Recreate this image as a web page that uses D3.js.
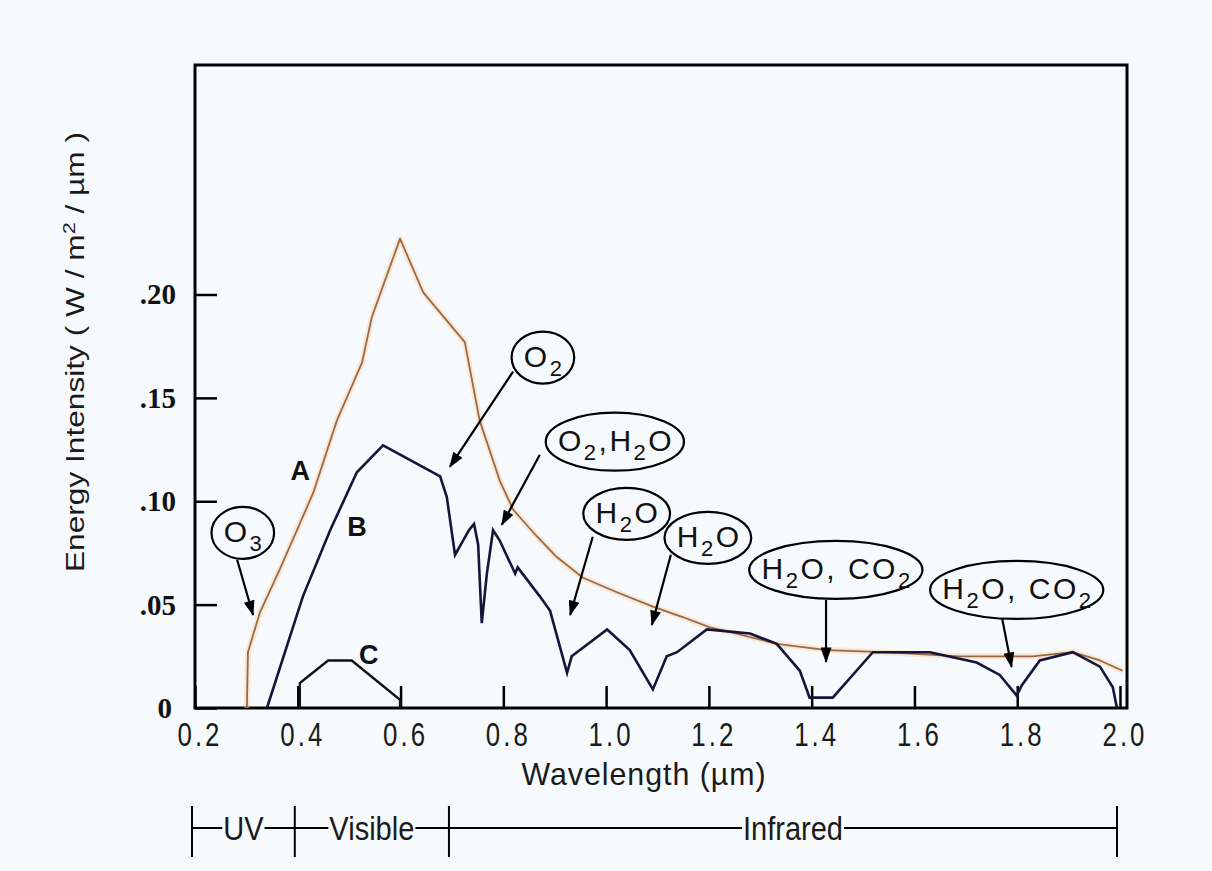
<!DOCTYPE html>
<html><head><meta charset="utf-8">
<script src="https://cdn.jsdelivr.net/npm/d3@7/dist/d3.min.js"></script>
<style>
body{margin:0;background:#f7fafc;}
svg{display:block;}
</style>
</head><body>
<svg id="chart" width="1212" height="871"></svg>
<script>
// ---------- data ----------
const xTickValues = [0.2,0.4,0.6,0.8,1.0,1.2,1.4,1.6,1.8,2.0];
const xTickLabels = ["0.2","0.4","0.6","0.8","1.0","1.2","1.4","1.6","1.8","2.0"];
const yTickValues = [0,0.05,0.10,0.15,0.20];
const yTickLabels = ["0",".05",".10",".15",".20"];

// Curve A (top of atmosphere)
const curveAWave = [0.301,0.303,0.326,0.365,0.430,0.476,0.525,0.544,0.599,0.644,0.725,0.754,0.793,0.819,0.858,0.904,0.955,1.021,1.091,1.149,1.202,1.254,1.332,1.430,1.539,1.688,1.830,1.908,1.961,2.005];
const curveAVal  = [0,0.027,0.046,0.067,0.104,0.139,0.167,0.189,0.227,0.201,0.177,0.139,0.110,0.096,0.085,0.073,0.063,0.056,0.049,0.044,0.039,0.036,0.031,0.028,0.027,0.025,0.025,0.027,0.023,0.018];
// Curve B (sea level)
const curveBWave = [0.340,0.410,0.463,0.515,0.566,0.677,0.690,0.706,0.733,0.743,0.751,0.758,0.768,0.780,0.793,0.823,0.828,0.871,0.891,0.924,0.933,1.002,1.046,1.091,1.118,1.138,1.196,1.280,1.332,1.377,1.396,1.441,1.519,1.630,1.721,1.766,1.799,1.809,1.844,1.908,1.961,1.986,1.994];
const curveBVal  = [0,0.054,0.086,0.114,0.127,0.112,0.102,0.074,0.086,0.089,0.079,0.041,0.065,0.086,0.081,0.065,0.068,0.054,0.047,0.017,0.025,0.038,0.028,0.009,0.025,0.027,0.038,0.036,0.031,0.018,0.005,0.005,0.027,0.027,0.022,0.016,0.006,0.011,0.023,0.027,0.020,0.010,0];
// Curve C
const curveCWave = [0.404,0.404,0.459,0.505,0.599,0.599];
const curveCVal  = [0,0.012,0.023,0.023,0.004,0];

const curveNames = ["A","B","C"];
const curveLabelWave = [0.405,0.515,0.538];
const curveLabelVal  = [0.115,0.088,0.026];

// Absorption annotations ("_" marks a subscript character)
const annLabels   = ["O_3","O_2","O_2,H_2O","H_2O","H_2O","H_2O, CO_2","H_2O, CO_2"];
const annCenterW  = [0.293,0.877,1.017,1.040,1.198,1.447,1.799];
const annCenterV  = [0.0847,0.1695,0.1288,0.0939,0.0823,0.0668,0.0571];
const annFromW    = [0.282,0.819,0.871,0.974,1.126,1.428,1.770];
const annFromV    = [0.0717,0.1627,0.1225,0.0828,0.0741,0.0523,0.0441];
const annToW      = [0.313,0.696,0.797,0.930,1.089,1.428,1.789];
const annToV      = [0.045,0.1167,0.0886,0.0450,0.0402,0.0223,0.0199];

// Spectral regions
const regionBounds = [0.2,0.4,0.7,2.0];
const regionNames  = ["UV","Visible","Infrared"];

// ---------- drawing ----------
const svg = d3.select("#chart");
const bg = "#f7fafc";
svg.append("rect").attr("width",1212).attr("height",871).attr("fill",bg);

const x = d3.scaleLinear().domain([0.2,2.0]).range([195,1120]);
const y = d3.scaleLinear().domain([0,0.311]).range([708,65]);

const sans = "'Liberation Sans',Arial,sans-serif";

// helper: horizontally condensed text
function narrowText(parent, px, py, str, size, sx, spacing){
  return parent.append("text")
    .attr("transform",`translate(${px},${py}) scale(${sx},1)`)
    .attr("text-anchor","middle").attr("font-family",sans).attr("font-size",size)
    .attr("letter-spacing",spacing||0).attr("fill","#1a1a1a").text(str);
}

// frame
svg.append("rect").attr("x",x(0.2)).attr("y",y(0.311))
  .attr("width",1127-x(0.2)).attr("height",y(0)-y(0.311))
  .attr("fill","none").attr("stroke","#000").attr("stroke-width",3);

// x axis (inward ticks)
const xAxis = d3.axisTop(x).tickValues(xTickValues).tickSize(22).tickFormat("");
const gx = svg.append("g").attr("transform",`translate(0,${y(0)})`).call(xAxis);
gx.select(".domain").remove();
gx.selectAll(".tick line").attr("stroke","#000").attr("stroke-width",2.5);
const gxl = svg.append("g");
xTickValues.forEach((d,i)=> narrowText(gxl, x(d)+5, 746, xTickLabels[i], 34, 0.76, 4));

// y axis (inward ticks)
const yAxis = d3.axisRight(y).tickValues(yTickValues).tickSize(22).tickFormat("");
const gy = svg.append("g").attr("transform",`translate(${x(0.2)},0)`).call(yAxis);
gy.select(".domain").remove();
gy.selectAll(".tick line").attr("stroke","#000").attr("stroke-width",2.5);
svg.append("g").selectAll("text").data(yTickValues).join("text")
  .attr("x",(d,i)=> i===0 ? 172 : 176).attr("y",d=>y(d)+10).attr("text-anchor","end")
  .attr("font-family","'Liberation Serif','Times New Roman',serif").attr("font-weight","bold").attr("font-size",29)
  .attr("fill","#111").text((d,i)=>yTickLabels[i]);

// axis titles
narrowText(svg, 644, 785, "Wavelength  (µm)", 32, 0.95, 1);

const yt = svg.append("text").attr("transform","translate(84,352) rotate(-90)")
  .attr("text-anchor","middle").attr("font-family",sans).attr("font-size",25).attr("fill","#1a1a1a")
  .attr("textLength",440).attr("lengthAdjust","spacingAndGlyphs");
yt.append("tspan").text("Energy Intensity  ( W / m");
yt.append("tspan").attr("dy",-9).attr("font-size",17).text("2");
yt.append("tspan").attr("dy",9).text(" / µm )");

// curves
const line = d3.line().x(d=>x(d[0])).y(d=>y(d[1]));
const dataA = curveAWave.map((w,i)=>[w,curveAVal[i]]);
const dataB = curveBWave.map((w,i)=>[w,curveBVal[i]]);
const dataC = curveCWave.map((w,i)=>[w,curveCVal[i]]);

svg.append("path").datum(dataA).attr("d",line).attr("fill","none")
  .attr("stroke","#f8c58f").attr("stroke-width",6).attr("stroke-opacity",0.35).attr("stroke-linejoin","round");
svg.append("path").datum(dataA).attr("d",line).attr("fill","none")
  .attr("stroke","#9a6a48").attr("stroke-width",1.8).attr("stroke-linejoin","round");
svg.append("path").datum(dataB).attr("d",line).attr("fill","none")
  .attr("stroke","#14143c").attr("stroke-width",2.6).attr("stroke-linejoin","miter");
svg.append("path").datum(dataC).attr("d",line).attr("fill","none")
  .attr("stroke","#111").attr("stroke-width",2.4);

// curve labels
svg.append("g").selectAll("text").data(curveNames).join("text")
  .attr("x",(d,i)=>x(curveLabelWave[i])).attr("y",(d,i)=>y(curveLabelVal[i])+10)
  .attr("text-anchor","middle").attr("font-family",sans).attr("font-weight","bold")
  .attr("font-size",27).attr("fill","#111").text(d=>d);

// arrow marker
svg.append("defs").append("marker").attr("id","arr")
  .attr("viewBox","0 0 14 10").attr("refX",13).attr("refY",5)
  .attr("markerWidth",16).attr("markerHeight",11).attr("markerUnits","userSpaceOnUse")
  .attr("orient","auto")
  .append("path").attr("d","M0,0 L14,5 L0,10 Z").attr("fill","#000");

// annotations
annLabels.forEach((lab,i)=>{
  const g = svg.append("g");
  g.append("line").attr("x1",x(annFromW[i])).attr("y1",y(annFromV[i]))
    .attr("x2",x(annToW[i])).attr("y2",y(annToV[i]))
    .attr("stroke","#000").attr("stroke-width",2.2).attr("marker-end","url(#arr)");
  const cx = x(annCenterW[i]), cy = y(annCenterV[i]);
  const ell = g.append("ellipse").attr("cx",cx).attr("cy",cy)
    .attr("fill",bg).attr("stroke","#000").attr("stroke-width",2.2);
  const t = g.append("text").attr("x",cx).attr("y",cy+9).attr("text-anchor","middle")
    .attr("font-family",sans).attr("font-size",30).attr("letter-spacing",2.5).attr("fill","#111");
  let sub=false, shift=0;
  for (let k=0;k<lab.length;k++){
    const ch = lab[k];
    if (ch==="_"){ sub=true; continue; }
    if (sub){
      t.append("tspan").attr("dy",9).attr("font-size",22).text(ch);
      shift=9; sub=false;
    } else {
      const ts = t.append("tspan").text(ch);
      if (shift){ ts.attr("dy",-shift); shift=0; }
    }
  }
  const w = t.node().getComputedTextLength();
  t.attr("x",cx+1.25);
  ell.attr("rx",w/2+11).attr("ry",lab.length>6?29:26);
});

// region bracket
const by = 828;
const bracket = svg.append("g");
bracket.selectAll("line.bar").data(regionBounds).join("line").attr("class","bar")
  .attr("x1",d=>x(d)-3).attr("x2",d=>x(d)-3).attr("y1",806).attr("y2",857)
  .attr("stroke","#000").attr("stroke-width",2);
regionNames.forEach((nm,i)=>{
  const a = x(regionBounds[i])-3, b = x(regionBounds[i+1])-3;
  const mid = (a+b)/2 + (i===2?10:0);
  const sx = 0.88;
  const t = narrowText(bracket, mid, by+12, nm, 33, sx, 0);
  const tw = t.node().getComputedTextLength()*sx;
  bracket.append("line").attr("x1",a).attr("x2",mid-tw/2-1).attr("y1",by).attr("y2",by)
    .attr("stroke","#000").attr("stroke-width",2);
  bracket.append("line").attr("x1",mid+tw/2+1).attr("x2",b).attr("y1",by).attr("y2",by)
    .attr("stroke","#000").attr("stroke-width",2);
});
</script>
</body></html>
